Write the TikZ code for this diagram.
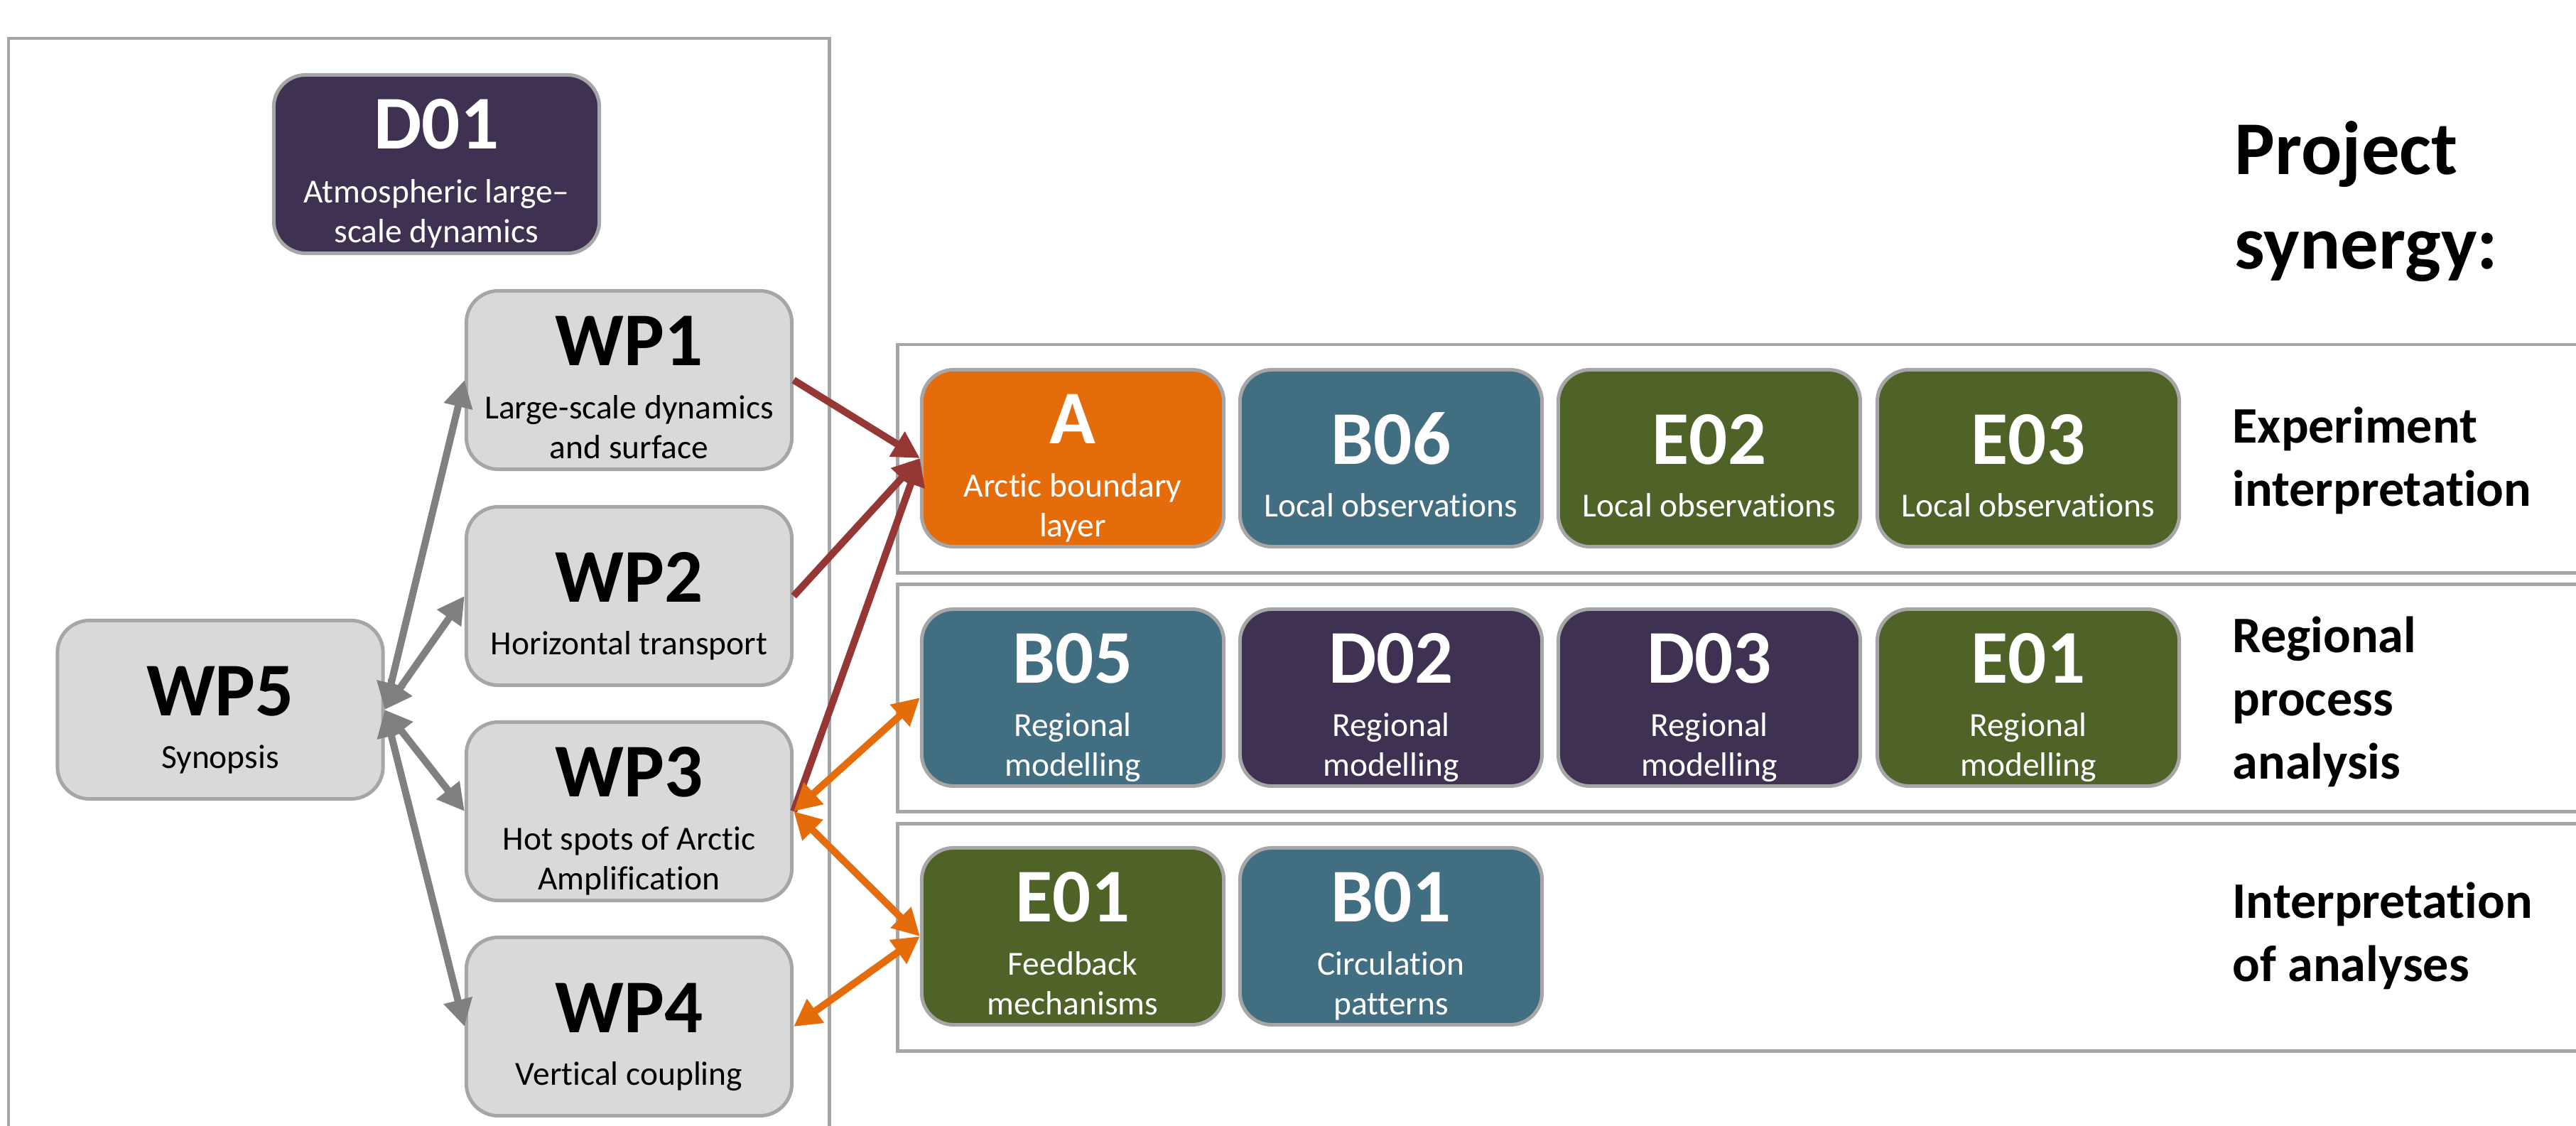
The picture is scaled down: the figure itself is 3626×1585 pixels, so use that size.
\documentclass[tikz,border=0pt]{standalone}
\usepackage{fontspec}
\setmainfont{Carlito}[Ligatures=NoCommon]
\usetikzlibrary{arrows.meta}
\definecolor{boxgray}{HTML}{D9D9D9}
\definecolor{edgegray}{HTML}{A6A6A6}
\definecolor{arrgray}{HTML}{808080}
\definecolor{cpurple}{HTML}{3F3151}
\definecolor{cteal}{HTML}{426E82}
\definecolor{cgreen}{HTML}{4F6228}
\definecolor{corange}{HTML}{E46C0A}
\definecolor{cred}{HTML}{953735}
\tikzset{
  basebox/.style={draw=edgegray, line width=1.42pt, rounded corners=12.8pt, inner sep=0pt},
  graybox/.style={basebox, fill=boxgray, minimum width=4.58cm, minimum height=2.51cm},
  purplebox/.style={basebox, fill=cpurple, minimum width=4.58cm, minimum height=2.51cm},
  colbox/.style={basebox, minimum width=4.25cm, minimum height=2.49cm},
  ttl/.style={font=\fontsize{30.4}{36}\selectfont\bfseries, inner sep=0pt},
  subt/.style={font=\fontsize{13.5}{16}\selectfont, inner sep=0pt},
  frm/.style={draw=edgegray, line width=1.42pt},
  lbl/.style={font=\fontsize{20.5}{25.3}\selectfont\bfseries, align=left, anchor=base west, inner sep=0pt},
  conn/.style={line width=2.85pt},
  >={Triangle[length=10.8pt,width=11.1pt]}
}
% #1 name, #2 x, #3 y, #4 box style, #5 title, #6 sub line 1, #7 sub line 2, #8 text colour
\newcommand{\pbox}[8]{%
  \node[#4] (#1) at (#2,#3) {};
  \if\relax\detokenize{#7}\relax
    \node[ttl, text=#8, anchor=base] (#1t) at (#2,#3+8) {#5};
    \node[subt, text=#8, anchor=base] (#1s) at (#2,#3+82) {#6};
  \else
    \node[ttl, text=#8, anchor=base] (#1t) at (#2,#3-21) {#5};
    \node[subt, text=#8, anchor=base] (#1s) at (#2,#3+54) {#6};
    \node[subt, text=#8, anchor=base] (#1u) at (#2,#3+110) {#7};
  \fi}
\begin{document}
\begin{tikzpicture}[x=0.01cm, y=-0.01cm]
\useasboundingbox[fill=white] (0,0) rectangle (3626,1585);
\clip (0,0) rectangle (3626,1585);
% frames
\draw[frm] (12,54) rectangle (1167,1620);
\draw[frm] (1263,485) rectangle (3660,806);
\draw[frm] (1263,822) rectangle (3660,1142);
\draw[frm] (1263,1159) rectangle (3660,1479);
% left boxes
\pbox{d01}{614.5}{231}{purplebox}{D01}{Atmospheric large–}{scale dynamics}{white}
\pbox{wp1}{885.5}{535}{graybox}{WP1}{Large-scale dynamics}{and surface}{black}
\pbox{wp2}{885.5}{839}{graybox}{WP2}{Horizontal transport}{}{black}
\pbox{wp3}{885.5}{1142}{graybox}{WP3}{Hot spots of Arctic}{Amplification}{black}
\pbox{wp4}{885.5}{1445}{graybox}{WP4}{Vertical coupling}{}{black}
\pbox{wp5}{310}{999}{graybox}{WP5}{Synopsis}{}{black}
% row 1
\pbox{a}{1510}{645}{colbox, fill=corange}{A}{Arctic boundary}{layer}{white}
\pbox{b06}{1958}{645}{colbox, fill=cteal}{B06}{Local observations}{}{white}
\pbox{e02}{2406}{645}{colbox, fill=cgreen}{E02}{Local observations}{}{white}
\pbox{e03}{2855}{645}{colbox, fill=cgreen}{E03}{Local observations}{}{white}
% row 2
\pbox{b05}{1510}{982}{colbox, fill=cteal}{B05}{Regional}{modelling}{white}
\pbox{d02}{1958}{982}{colbox, fill=cpurple}{D02}{Regional}{modelling}{white}
\pbox{d03}{2406}{982}{colbox, fill=cpurple}{D03}{Regional}{modelling}{white}
\pbox{e01r}{2855}{982}{colbox, fill=cgreen}{E01}{Regional}{modelling}{white}
% row 3
\pbox{e01f}{1510}{1318}{colbox, fill=cgreen}{E01}{Feedback}{mechanisms}{white}
\pbox{b01}{1958}{1318}{colbox, fill=cteal}{B01}{Circulation}{patterns}{white}
% labels (base anchor = baseline of the last line)
\node[font=\fontsize{30.4}{37.6}\selectfont\bfseries, align=left, anchor=base west, inner sep=0pt] (proj) at (3145,378) {Project\\synergy:};
\node[lbl] (lexp) at (3142,712) {Experiment\\interpretation};
\node[lbl] (lreg) at (3142,1096) {Regional\\process\\analysis};
\node[lbl] (lint) at (3142,1381) {Interpretation\\of analyses};
% connectors
\draw[conn, cred, ->] (wp1.east) -- (a.west);
\draw[conn, cred, ->] (wp2.east) -- (a.west);
\draw[conn, cred, ->] (wp3.east) -- (a.west);
\draw[conn, corange, <->] (wp3.east) -- (b05.west);
\draw[conn, corange, <->] (wp3.east) -- (e01f.west);
\draw[conn, corange, <->] (wp4.east) -- (e01f.west);
\draw[conn, arrgray, <->] (wp5.east) -- (wp1.west);
\draw[conn, arrgray, <->] (wp5.east) -- (wp2.west);
\draw[conn, arrgray, <->] (wp5.east) -- (wp3.west);
\draw[conn, arrgray, <->] (wp5.east) -- (wp4.west);
\end{tikzpicture}
\end{document}
